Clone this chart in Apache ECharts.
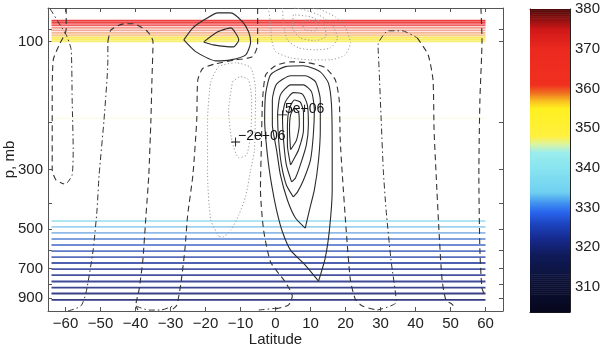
<!DOCTYPE html>
<html>
<head>
<meta charset="utf-8">
<script src="https://cdn.jsdelivr.net/npm/echarts@6/dist/echarts.min.js"></script>
<style>
  html, body { margin: 0; padding: 0; background: #fff; }
  #chart { width: 603px; height: 349px; }
</style>
</head>
<body>
<div id="chart"></div>
<script>
// axis ticks
var latTicks = [-60, -50, -40, -30, -20, -10, 0, 10, 20, 30, 40, 50, 60];
var presLabels = [100, 300, 500, 700, 900];
var presTicks = [90, 100, 200, 300, 400, 500, 600, 700, 800, 900];
var cbarTicks = [310, 320, 330, 340, 350, 360, 370, 380];

// isentropes (theta, K) and the pressure (mb) they sit on
var isenTheta = [372, 370, 366, 362, 360, 359, 358, 356, 353, 350,
                 336, 334, 332, 330, 328, 326, 324, 322, 320, 318, 316, 314, 312, 310];
var isenPres  = [83.7, 85.2, 87.0, 88.9, 90.9, 92.8, 94.8, 96.5, 98.1, 99.8,
                 466, 490, 516, 544, 572, 603, 635, 668, 704, 741, 783, 825, 868, 916];
var faintTheta = [348];
var faintPres = [193];
var isenLatStart = -64, isenLatEnd = 60;

// colour bar map (theta -> colour)
var cmapTheta = [304, 312, 318, 322, 326, 329, 331, 334, 340, 344, 346, 348, 355, 357, 359, 361, 370, 375, 380];
var cmapColor = ['#07071e', '#0c1238', '#0f1a58', '#16288a', '#1c44c0', '#2a66ee', '#3c8cf0', '#70d0f0', '#88e4f0',
                 '#98ecec', '#d8f4a0', '#fff040', '#fff020', '#f8c020', '#f07020', '#f03020', '#ec2a20', '#d01818', '#500808'];
// how the thin isentrope lines come out on white
var lineTheta = [304, 310, 314, 318, 322, 326, 330, 333, 336, 346, 348, 350, 356, 358, 360, 362, 366, 370, 374, 380];
var lineColor = ['#30347a', '#363c80', '#3a4590', '#4350a0', '#5060b0', '#6078c8', '#80a0e0', '#98c8ec', '#b0e6f4',
                 '#e8f4c0', '#f8f4a0', '#f8f070', '#f8e860', '#f8c890', '#f4a898', '#f4a090', '#f06060', '#f04444',
                 '#e83c3c', '#c03030'];

// streamfunction contours, [lat, p(mb)]
var leftDash = [[-59.8,75],[-59.8,90],[-61.8,103],[-63.5,117],[-63.8,165],[-63.8,301],[-62.7,328],[-60.4,339]];
var leftDashDot = [[-64.4,75.5],[-62.1,84.5],[-59.8,94.4],[-58.4,107],[-58.1,165],[-57.8,253],[-58.1,314],[-59.5,336]];
var cellBDashDot = [[-59.3,1008],[-55.6,966],[-54.1,857],[-52.1,598],[-51.0,424],[-50.4,314],[-49.0,196],[-47.9,117],[-47.9,100]];
var cellBDash = [[-47.9,100],[-47,90.5],[-43.3,85.9],[-40.5,85.9],[-36.5,92],[-35,100],[-35.3,139],[-35.6,196],[-36.2,314],
                 [-37,443],[-37.9,651],[-39,842],[-39.9,958],[-39.3,1000]];
var cellBBottom = [[-39.9,966],[-36.2,1000],[-32.8,1000],[-29.3,966]];
var negEdgeDash = [[-5.1,75],[-5.1,103],[-6.6,114],[-11.4,117],[-17.1,121],[-20.8,126],[-22.2,139],[-22.5,196],[-23.6,314],
                   [-25.1,443],[-25.9,598],[-27.1,807],[-28.2,958],[-29.3,991]];
var posEdgeDash = [[0,991],[3.7,958],[4.8,887],[2.8,787],[-1.4,662],[-3.4,504],[-4.3,357],[-4.0,233],[-3.7,165],[-2.8,133],
                   [0,123],[4.3,119],[9.4,120],[14.2,125],[17.1,139],[18.2,165],[18.5,233],[19.1,314],[20.2,504],[21.4,773],
                   [22.8,910],[24.8,966],[29.1,1000]];
var eqBottom = [[-4.8,1000],[0.6,983]];
var rightDashDot = [[29.1,1000],[34.5,934],[33.0,651],[31.6,424],[30.8,301],[30.2,196],[29.6,127],[29.3,103],[32.2,91.2],
                    [36.2,91.2],[40.5,96.9]];
var rightDash = [[40.5,96.9],[43.6,112],[45,139],[45.3,213],[45.9,314],[46.7,504],[47.6,773],[48.7,918],[50.4,950],[51.3,983]];
var farRightDash = [[58.7,75],[59,98.6],[58.4,165],[58.1,314],[58.4,598],[59,828],[60.1,895]];

var negOuter = [[-16.2,532],[-18.5,462],[-19.4,314],[-19.4,196],[-18.5,142],[-16.2,124],[-11.4,120],[-7.1,125],[-5.7,151],
                [-6,253],[-7.1,301],[-8.5,376],[-10.5,443],[-12.8,504],[-15.1,535],[-16.2,532]];
var negInner = [[-12.3,141],[-10,135],[-7.7,139],[-6.8,165],[-7.1,223],[-8.3,265],[-10.5,271],[-12.5,233],[-13.4,180],[-12.3,141]];
var topNeg1 = [[-2,75],[-1.4,86.7],[-1.1,98.6],[0,109],[4.3,115],[10,117],[15.7,117],[19.9,112],[21.4,101],[19.9,88],
               [17.1,81],[12.8,76],[10,75]];
var topNeg2 = [[2,75],[2.3,86.7],[3.4,98.6],[6.6,105.6],[11.4,107.4],[15.7,105.6],[17.7,96.9],[16.2,86.7],[12.3,79.5],
               [7.1,75.5],[4.8,75]];
var topNeg3 = [[5.1,79.5],[4.8,88.9],[7.1,96.9],[11.4,99.4],[14.5,95.2],[13.7,85.9],[10,80.9],[5.1,79.5]];
var topNeg4 = [[7.4,85.2],[8.5,90.5],[11.4,91.2],[12,85.9],[9.1,83],[7.4,85.2]];

var topPos1 = [[-26.2,98.6],[-23.6,88.9],[-19.9,82.3],[-16.5,78.2],[-12.8,78.2],[-9.4,84.5],[-7.7,92],[-7.1,100.3],
               [-8.5,112.1],[-12.8,117],[-17.1,118],[-22.8,109],[-26.2,98.6]];
var topPos2 = [[-20.5,100.3],[-16.5,92],[-12.8,88.9],[-10.5,98.6],[-12,104.7],[-17.7,102.9],[-20.5,100.3]];

var pos1 = [[12.3,780],[8.5,680],[4.3,598],[2,512],[0.3,424],[-1.1,342],[-2.3,265],[-3.1,196],[-2.8,156],[-1.4,133],
            [2.8,124],[8,123],[12.8,129.7],[15.1,142.5],[16,172],[16.2,253],[16.2,357],[15.4,504],[14.2,640],[12.3,780]];
var pos2 = [[8.5,495],[5.7,454],[3.4,389],[1.4,314],[0.3,253],[-0.9,204],[-0.9,165],[0.3,144],[4.3,134],[8.5,134],
            [11.4,141],[12.8,165],[12.8,213],[12.3,276],[11.1,357],[9.7,424],[8.5,495]];
var pos3 = [[5.1,379],[3.1,342],[1.7,288],[0.9,233],[0.6,188],[1.4,158],[4.3,145],[8,145],[10.3,154],[11.1,180],
            [10.8,223],[10,276],[8,328],[6.3,363],[5.1,379]];
var pos4 = [[4.6,333],[3.1,288],[2.3,233],[2,192],[2.8,168],[5.1,155],[7.7,157],[9.1,172],[9.4,204],[8.8,243],
            [7.1,288],[5.7,322],[4.6,333]];
var pos5 = [[4.3,288],[3.4,243],[3.4,204],[4,177],[5.4,165],[7.1,168],[8,183],[8,213],[6.6,253],[5.1,276],[4.3,288]];
var pos6 = [[4.3,253],[4,213],[4.3,188],[5.4,177],[6.6,183],[6.8,204],[6,233],[4.3,253]];

// extremum labels
var markLat = [-11.4, 2.0];
var markPres = [236.5, 187.6];
var markText = ['\u22122e+06', '5e+06'];

var FONT = 'Liberation Sans';
var lineStyles = {
  solid:   { color: '#2b2b2b', width: 1.1, type: 'solid' },
  dash:    { color: '#333', width: 1.1, type: [6, 4] },
  dashdot: { color: '#333', width: 1, type: [6, 3, 1.5, 3] },
  dot:     { color: '#9a9a9a', width: 1, type: [1.2, 2.2] }
};
var contours = [
  [leftDash, 'dash'], [leftDashDot, 'dashdot'], [cellBDashDot, 'dashdot'], [cellBDash, 'dash'], [cellBBottom, 'dashdot'],
  [negEdgeDash, 'dash'], [posEdgeDash, 'dash'], [eqBottom, 'dashdot'], [rightDashDot, 'dashdot'], [rightDash, 'dash'],
  [farRightDash, 'dash'],
  [negOuter, 'dot'], [negInner, 'dot'], [topNeg1, 'dot'], [topNeg2, 'dot'], [topNeg3, 'dot'], [topNeg4, 'dot'],
  [topPos1, 'solid'], [topPos2, 'solid'],
  [pos1, 'solid'], [pos2, 'solid'], [pos3, 'solid'], [pos4, 'solid'], [pos5, 'solid'], [pos6, 'solid']
];

function lg(p) { return Math.log10(p); }

// colours for the visual maps, one per kelvin, interpolated from the stops
function hex2rgb(h) { return [parseInt(h.substr(1,2),16), parseInt(h.substr(3,2),16), parseInt(h.substr(5,2),16)]; }
function interpColor(stops, cols, t) {
  for (var i = 0; i < stops.length - 1; i++) {
    if (t <= stops[i + 1]) {
      var f = (t - stops[i]) / (stops[i + 1] - stops[i]);
      var a = hex2rgb(cols[i]), b = hex2rgb(cols[i + 1]);
      return 'rgb(' + [0,1,2].map(function (k) { return Math.round(a[k] + (b[k] - a[k]) * f); }).join(',') + ')';
    }
  }
  return cols[cols.length - 1];
}
var barColors = [], isenColors = [];
for (var t = 304; t <= 380; t++) {
  barColors.push(interpColor(cmapTheta, cmapColor, t));
  isenColors.push(interpColor(lineTheta, lineColor, t));
}

var cbarMin = 303.7, cbarMax = 380;
var cbarBins = [];
for (var v = cbarMin; v < cbarMax; v += 0.5) cbarBins.push([0.5, v, v + 0.25, Math.min(v + 0.5, cbarMax)]);

var chart = echarts.init(document.getElementById('chart'));

var series = [];
function isenSeries(thetas, pres, width, opacity) {
  return {
    type: 'custom', xAxisIndex: 0, yAxisIndex: 0,
    encode: { x: 0, y: 1 },
    data: thetas.map(function (th, i) { return [isenLatStart, lg(pres[i]), th]; }),
    renderItem: function (params, api) {
      var a = api.coord([isenLatStart, api.value(1)]);
      var b = api.coord([isenLatEnd, api.value(1)]);
      return { type: 'line', shape: { x1: a[0], y1: a[1], x2: b[0], y2: b[1] },
               style: { stroke: api.visual('color'), lineWidth: width, opacity: opacity } };
    },
    silent: true, z: 1
  };
}
series.push(isenSeries(isenTheta, isenPres, 1.9, 1));
series.push(isenSeries(faintTheta, faintPres, 1, 0.35));

contours.forEach(function (c) {
  series.push({
    type: 'line', xAxisIndex: 0, yAxisIndex: 0,
    data: c[0].map(function (d) { return [d[0], lg(d[1])]; }),
    showSymbol: false, smooth: 0.2, silent: true, z: 3,
    lineStyle: lineStyles[c[1]]
  });
});

series.push({
  type: 'scatter', xAxisIndex: 0, yAxisIndex: 0, z: 4,
  symbol: 'path://M0,4.5L10,4.5L10,5.5L0,5.5Z M4.5,0L5.5,0L5.5,10L4.5,10Z',
  symbolSize: 9, itemStyle: { color: '#111', opacity: 1 },
  data: markLat.map(function (la, i) { return [la, lg(markPres[i])]; }),
  label: {
    show: true, position: 'right', distance: 0, offset: [-2, -6],
    formatter: function (p) { return markText[p.dataIndex]; },
    fontFamily: FONT, fontSize: 14, color: '#111'
  }
});

series.push({
  type: 'custom', xAxisIndex: 2, yAxisIndex: 2,
  encode: { x: 0, y: [1, 3] },
  data: cbarBins,
  renderItem: function (params, api) {
    var p0 = api.coord([0, api.value(3)]);
    var p1 = api.coord([1, api.value(1)]);
    return { type: 'rect', shape: { x: p0[0], y: p0[1], width: p1[0] - p0[0], height: p1[1] - p0[1] + 0.6 },
             style: { fill: api.visual('color') } };
  },
  silent: true
});

var axisCol = '#555';
var txtStyle = { fontFamily: FONT, fontSize: 15, color: '#222' };

chart.setOption({
  animation: false,
  backgroundColor: '#fff',
  grid: [
    { left: 48, right: 100, top: 8, bottom: 38, outerBoundsMode: 'none', containLabel: false },
    { left: 530, width: 40, top: 9, height: 303, outerBoundsMode: 'none', containLabel: false }
  ],
  visualMap: [
    { type: 'continuous', show: false, min: 304, max: 380, dimension: 2,
      seriesIndex: [0, 1], inRange: { color: isenColors } },
    { type: 'continuous', show: false, min: 304, max: 380, dimension: 2,
      seriesIndex: [series.length - 1], inRange: { color: barColors } }
  ],
  xAxis: [
    { type: 'value', gridIndex: 0, min: -65, max: 65, position: 'bottom',
      name: 'Latitude', nameLocation: 'middle', nameGap: 21, nameMoveOverlap: false, nameTextStyle: txtStyle,
      axisLine: { show: true, onZero: false, lineStyle: { color: axisCol } },
      axisTick: { show: true, inside: true, length: 4, customValues: latTicks, lineStyle: { color: axisCol } },
      axisLabel: Object.assign({ customValues: latTicks, margin: 5,
        formatter: function (v) { return String(v).replace('-', '\u2212'); } }, txtStyle),
      splitLine: { show: false } },
    { type: 'value', gridIndex: 0, min: -65, max: 65, position: 'top',
      axisLine: { show: true, onZero: false, lineStyle: { color: axisCol } },
      axisTick: { show: true, inside: true, length: 4, customValues: latTicks, lineStyle: { color: axisCol } },
      axisLabel: { show: false }, splitLine: { show: false } },
    { type: 'value', gridIndex: 1, min: 0, max: 1, position: 'bottom',
      axisLine: { show: true, onZero: false, lineStyle: { color: '#222' } },
      axisTick: { show: false }, axisLabel: { show: false }, splitLine: { show: false } },
    { type: 'value', gridIndex: 1, min: 0, max: 1, position: 'top',
      axisLine: { show: true, onZero: false, lineStyle: { color: '#222' } },
      axisTick: { show: false }, axisLabel: { show: false }, splitLine: { show: false } }
  ],
  yAxis: [
    { type: 'value', gridIndex: 0, min: lg(75), max: lg(1008), inverse: true, position: 'left',
      name: 'p, mb', nameLocation: 'middle', nameGap: 31, nameMoveOverlap: false, nameTextStyle: txtStyle,
      axisLine: { show: true, onZero: false, lineStyle: { color: axisCol } },
      axisTick: { show: true, inside: true, length: 4, customValues: presTicks.map(lg), lineStyle: { color: axisCol } },
      axisLabel: Object.assign({ customValues: presLabels.map(lg), margin: 5,
        formatter: function (v) { return Math.round(Math.pow(10, v)); } }, txtStyle),
      splitLine: { show: false } },
    { type: 'value', gridIndex: 0, min: lg(75), max: lg(1008), inverse: true, position: 'right',
      axisLine: { show: true, onZero: false, lineStyle: { color: axisCol } },
      axisTick: { show: true, inside: true, length: 4, customValues: presTicks.map(lg), lineStyle: { color: axisCol } },
      axisLabel: { show: false }, splitLine: { show: false } },
    { type: 'value', gridIndex: 1, min: cbarMin, max: cbarMax, position: 'right',
      axisLine: { show: true, onZero: false, lineStyle: { color: '#222' } },
      axisTick: { show: true, inside: true, length: 4, customValues: cbarTicks, lineStyle: { color: '#222' } },
      axisLabel: Object.assign({ customValues: cbarTicks, margin: 5 }, txtStyle),
      splitLine: { show: false } },
    { type: 'value', gridIndex: 1, min: cbarMin, max: cbarMax, position: 'left',
      axisLine: { show: true, onZero: false, lineStyle: { color: '#222' } },
      axisTick: { show: false }, axisLabel: { show: false }, splitLine: { show: false } }
  ],
  series: series
});
</script>
</body>
</html>
